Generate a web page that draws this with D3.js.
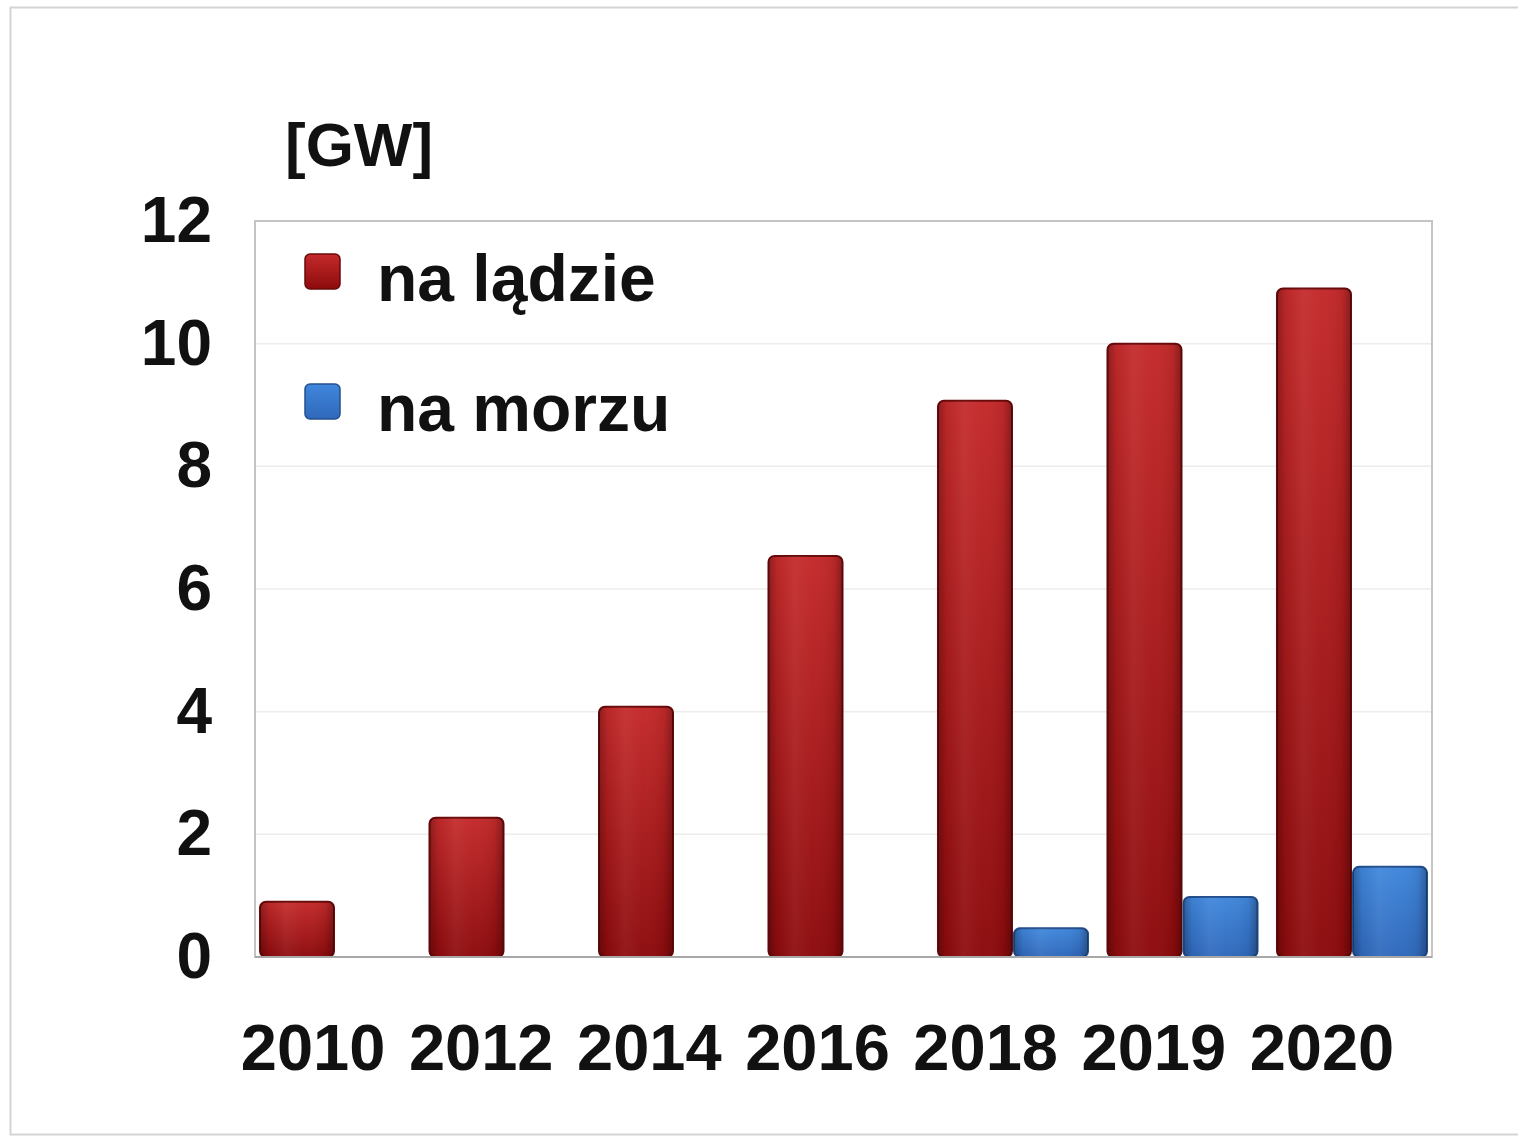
<!DOCTYPE html>
<html>
<head>
<meta charset="utf-8">
<script src="https://cdn.jsdelivr.net/npm/d3@7"></script>
<style>
  html, body { margin: 0; padding: 0; background: #ffffff; }
  svg { display: block; }
  text { font-family: "Liberation Sans", Arial, sans-serif; font-weight: bold; fill: #111; }
</style>
</head>
<body>
<script>
const categories = ["2010", "2012", "2014", "2016", "2018", "2019", "2020"];
const onshore = [0.9, 2.27, 4.08, 6.54, 9.07, 10.0, 10.9];
const offshore = [0, 0, 0, 0, 0.47, 0.98, 1.47];
const seriesNames = ["na lądzie", "na morzu"];
const yTicks = [0, 2, 4, 6, 8, 10, 12];
const unitLabel = "[GW]";

const W = 1518, H = 1141;
const plot = { left: 255, right: 1432, top: 221, bottom: 957 };

const svg = d3.select("body").append("svg").attr("width", W).attr("height", H);
const defs = svg.append("defs");

function vGrad(id, c1, c2) {
  const g = defs.append("linearGradient").attr("id", id).attr("x1", 0).attr("y1", 0).attr("x2", 0).attr("y2", 1);
  g.append("stop").attr("offset", "0%").attr("stop-color", c1);
  g.append("stop").attr("offset", "100%").attr("stop-color", c2);
}
vGrad("redV", "#c42a2b", "#8d0b0d");
vGrad("blueV", "#4087dc", "#2f68bb");
const hg = defs.append("linearGradient").attr("id", "shadeH").attr("x1", 0).attr("y1", 0).attr("x2", 1).attr("y2", 0);
[["0%", "#000", 0.28], ["12%", "#000", 0.05], ["35%", "#fff", 0.06], ["60%", "#fff", 0.02], ["88%", "#000", 0.06], ["100%", "#000", 0.3]]
  .forEach(([o, c, a]) => hg.append("stop").attr("offset", o).attr("stop-color", c).attr("stop-opacity", a));

// Outer frame
svg.append("rect").attr("x", 10.5).attr("y", 7.5).attr("width", W + 10).attr("height", 1127)
  .attr("fill", "#fff").attr("stroke", "#d4d4d4").attr("stroke-width", 2);

// Bar scale and label scale
const x = d3.scaleBand().domain(categories).range([plot.left, plot.right]).paddingInner(0.103).paddingOuter(0.0235);
const xLab = d3.scaleBand().domain(categories).range([plot.left, plot.right]).paddingInner(0.1).paddingOuter(0.05);
const xs = d3.scaleBand().domain([0, 1]).range([0, x.bandwidth()]);
const y = d3.scaleLinear().domain([0, 12]).range([plot.bottom, plot.top]);

// Gridlines
svg.append("g").selectAll("line").data(yTicks.filter(d => d > 0 && d < 12)).join("line")
  .attr("x1", plot.left).attr("x2", plot.right)
  .attr("y1", d => y(d)).attr("y2", d => y(d))
  .attr("stroke", "#ececec").attr("stroke-width", 1.5);

// Plot border
svg.append("rect").attr("x", plot.left).attr("y", plot.top)
  .attr("width", plot.right - plot.left).attr("height", plot.bottom - plot.top)
  .attr("fill", "none").attr("stroke", "#c4c4c4").attr("stroke-width", 2);

// Bars
const series = [
  { vals: onshore, fill: "url(#redV)", stroke: "#6a0a0b" },
  { vals: offshore, fill: "url(#blueV)", stroke: "#24508f" }
];
series.forEach((s, si) => {
  const g = svg.append("g");
  const data = categories.map((c, i) => ({ c, v: s.vals[i] })).filter(d => d.v > 0);
  g.selectAll("rect.bar").data(data).join("rect").attr("class", "bar")
    .attr("x", d => x(d.c) + xs(si) + 1).attr("width", xs.bandwidth() - 2)
    .attr("y", d => y(d.v)).attr("height", d => y(0) - y(d.v))
    .attr("rx", 6).attr("ry", 6)
    .attr("fill", s.fill).attr("stroke", s.stroke).attr("stroke-width", 2);
  g.selectAll("rect.shade").data(data).join("rect").attr("class", "shade")
    .attr("x", d => x(d.c) + xs(si) + 1).attr("width", xs.bandwidth() - 2)
    .attr("y", d => y(d.v)).attr("height", d => y(0) - y(d.v))
    .attr("rx", 6).attr("ry", 6)
    .attr("fill", "url(#shadeH)");
});

// Baseline
svg.append("line").attr("x1", plot.left).attr("x2", plot.right)
  .attr("y1", y(0)).attr("y2", y(0)).attr("stroke", "#a8a8a8").attr("stroke-width", 2);

// Y axis
const yAxis = svg.append("g").attr("transform", `translate(${plot.left},0)`)
  .call(d3.axisLeft(y).tickValues(yTicks).tickSize(0).tickPadding(43));
yAxis.select(".domain").remove();
yAxis.selectAll("text").attr("font-size", 64).attr("font-family", "'Liberation Sans', Arial, sans-serif")
  .attr("font-weight", "bold").attr("fill", "#111");

// X axis
const xAxis = svg.append("g").attr("transform", `translate(-26,${plot.bottom})`)
  .call(d3.axisBottom(xLab).tickSize(0).tickPadding(67));
xAxis.select(".domain").remove();
xAxis.selectAll("text").attr("font-size", 65).attr("font-family", "'Liberation Sans', Arial, sans-serif")
  .attr("font-weight", "bold").attr("fill", "#111");

// Unit label
svg.append("text").attr("x", 285).attr("y", 166).attr("font-size", 62).text(unitLabel);

// Legend
const legColors = ["url(#redV)", "url(#blueV)"];
const legStroke = ["#6a0a0b", "#24508f"];
const legY = [272, 402];
seriesNames.forEach((n, i) => {
  svg.append("rect").attr("x", 305).attr("y", legY[i] - 18).attr("width", 35).attr("height", 35)
    .attr("rx", 5).attr("fill", legColors[i]).attr("stroke", legStroke[i]).attr("stroke-width", 1.5);
  svg.append("text").attr("x", 377).attr("y", legY[i] + 29).attr("font-size", 66).text(n);
});
</script>
</body>
</html>
